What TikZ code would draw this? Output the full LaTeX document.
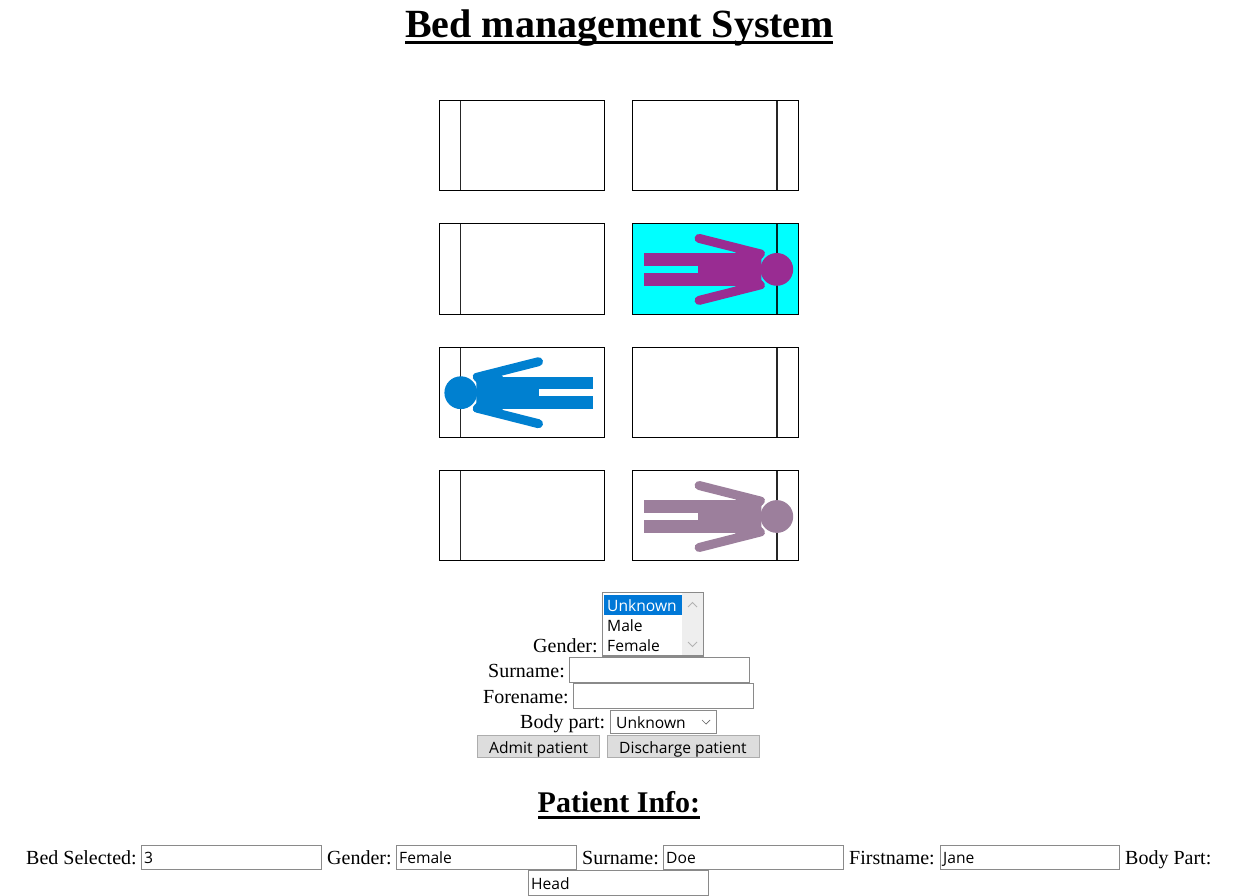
\documentclass[tikz,border=0pt]{standalone}
\usepackage{fontspec}
\setmainfont{Liberation Serif}
\newfontfamily\widgetfont{Open Sans}
\definecolor{fieldline}{HTML}{8A8A8A}
\definecolor{btnfill}{HTML}{DDDDDD}
\definecolor{btnline}{HTML}{ADADAD}
\definecolor{pickblue}{HTML}{0078D7}
\definecolor{scrollbg}{HTML}{EEEEEE}
\definecolor{bedcyan}{HTML}{00FFFF}
\definecolor{personpurple}{HTML}{992C92}
\definecolor{personblue}{HTML}{0080D0}
\definecolor{personmauve}{HTML}{9C7F9C}
\tikzset{
  x=1pt,y=-1pt,
  lbl/.style={anchor=base west,inner sep=0pt,font=\fontsize{20}{24}\selectfont},
  wtxt/.style={anchor=base west,inner sep=0pt,text=black,font=\widgetfont\fontsize{15.6}{18}\selectfont},
  field/.style={draw=fieldline,fill=white,line width=1.2pt},
  btn/.style={draw=btnline,fill=btnfill,line width=1pt},
  bed/.style={draw=black,line width=1.6pt},
  bedbar/.style={draw=black,draw opacity=.85,line width=1.6pt},
  pics/person/.style={code={
    \fill[#1] (0,0) circle (16.4);
    \fill[#1] (-132.6,-16.2) rectangle (-78.4,-3.6);
    \fill[#1] (-132.6,3.6) rectangle (-78.4,16.6);
    \fill[#1] (-78.4,-16.2) rectangle (-40,16.6);
    \fill[#1] (-42,-16) -- (-40,-18) -- (-14,-19.5) -- (-12,-17) -- (-15.5,-10) -- (-15.5,10) -- (-12,17) -- (-14,19.5) -- (-40,18) -- (-42,16.6) -- cycle;
    \draw[#1,line width=9pt,line cap=round] (-77.7,-31) -- (-16.5,-15.5);
    \draw[#1,line width=9pt,line cap=round] (-77.7,31) -- (-16.5,15.5);
  }}
}
\begin{document}
\begin{tikzpicture}
\useasboundingbox (0,0) rectangle (1236,896);
\fill[white] (0,0) rectangle (1236,896);
% title
\node[anchor=base west,inner sep=0pt,font=\bfseries\fontsize{40}{48}\selectfont] (title) at (405,38) {Bed management System};
\fill[black] (405,41) rectangle (833,44);
% beds
\fill[bedcyan] (632.5,223.5) rectangle (798.5,314.5);
\foreach \t/\b in {100.5/190.5,223.5/314.5,347.5/437.5,470.5/560.5}{
  \draw[bed] (439.5,\t) rectangle (604.5,\b);
  \draw[bedbar] (460.5,\t) -- (460.5,\b);
  \draw[bed] (632.5,\t) rectangle (798.5,\b);
  \draw[bedbar] (776.7,\t) -- (776.7,\b);
}
\path pic at (776.8,269.4) {person=personpurple};
\path pic[xscale=-1] at (460.8,392.7) {person=personblue};
\path pic at (776.8,516.5) {person=personmauve};
% form
\node[lbl] (lgender) at (533,652) {Gender:};
\fill[scrollbg] (682,593) rectangle (703,656);
\fill[pickblue] (603.5,594.5) rectangle (682,614.5);
\draw[fieldline,line width=1.2pt] (602.5,592.5) rectangle (703.5,656);
\node[wtxt,text=white] (ou) at (607,611) {Unknown};
\node[wtxt] (om) at (607,631) {Male};
\node[wtxt] (of) at (607,651) {Female};
\draw[black!30,line width=1pt] (688,607) -- (692.5,602.5) -- (697,607);
\draw[black!30,line width=1pt] (688,642) -- (692.5,646.5) -- (697,642);
\node[lbl] (lsur) at (488,677) {Surname:};
\draw[field] (569.5,657.5) rectangle (749.5,682.5);
\node[lbl] (lfore) at (483,703) {Forename:};
\draw[field] (573.5,683.5) rectangle (753.5,708.5);
\node[lbl] (lbody) at (520,728) {Body part:};
\draw[field] (610.5,710.5) rectangle (716.5,733.5);
\node[wtxt] (sbody) at (616,728) {Unknown};
\draw[black!60,line width=.7pt] (702,720) -- (706,724) -- (710,720);
\draw[btn] (477.5,735.5) rectangle (599.5,757.5);
\node[wtxt] (badmit) at (489,753) {Admit patient};
\draw[btn] (607.5,735.5) rectangle (759.5,757.5);
\node[wtxt] (bdis) at (619,753) {Discharge patient};
% patient info
\node[anchor=base west,inner sep=0pt,font=\bfseries\fontsize{30}{36}\selectfont] (info) at (537.5,812) {Patient Info:};
\fill[black] (537.5,816) rectangle (700,818.5);
\node[lbl] (l1) at (26,864) {Bed Selected:};
\draw[field] (141.5,845.5) rectangle (321.5,869.5);
\node[wtxt] (v1) at (144,863.5) {3};
\node[lbl] (l2) at (327,864) {Gender:};
\draw[field] (396.5,845.5) rectangle (576.5,869.5);
\node[wtxt] (v2) at (399,863.5) {Female};
\node[lbl] (l3) at (582,864) {Surname:};
\draw[field] (663.5,845.5) rectangle (843.5,869.5);
\node[wtxt] (v3) at (666,863.5) {Doe};
\node[lbl] (l4) at (849,864) {Firstname:};
\draw[field] (940.5,845.5) rectangle (1119.5,869.5);
\node[wtxt] (v4) at (943,863.5) {Jane};
\node[lbl] (l5) at (1125,864) {Body Part:};
\draw[field] (528.5,870.5) rectangle (708.5,895.5);
\node[wtxt] (v5) at (531,889.5) {Head};
\end{tikzpicture}
\end{document}
